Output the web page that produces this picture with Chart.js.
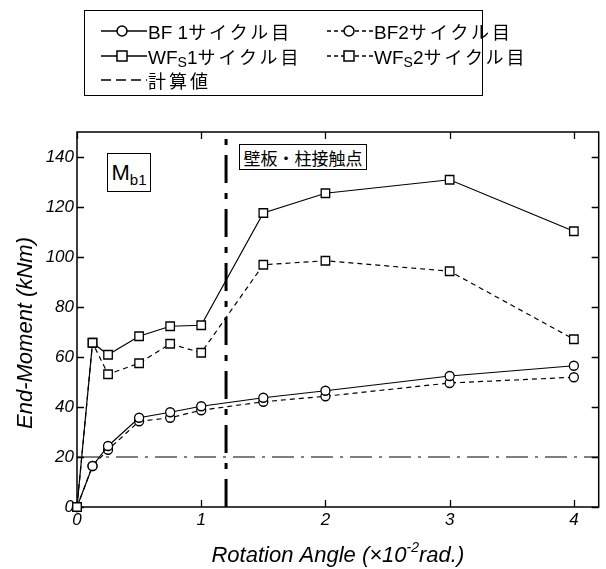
<!DOCTYPE html>
<html>
<head>
<meta charset="utf-8">
<script src="https://cdn.jsdelivr.net/npm/chart.js@4.4.1/dist/chart.umd.min.js"></script>
<style>
    html, body {
        margin: 0;
        padding: 0;
        background: #fff;
    }

    #wrap {
        position: relative;
        width: 606px;
        height: 569px;
        font-family: "Liberation Sans", "Noto Sans CJK JP", sans-serif;
        color: #000;
    }

    #momentCanvas {
        position: absolute;
        left: 0;
        top: 0;
    }

    .legend-box {
        position: absolute;
        left: 84px;
        top: 10px;
        width: 399px;
        height: 86px;
        box-sizing: border-box;
        border: 1.5px solid #000;
        background: #fff;
    }

    .legend-item {
        position: absolute;
        height: 24px;
        display: flex;
        align-items: center;
        font-size: 19px;
        white-space: nowrap;
    }

    .legend-item svg {
        flex: none;
        margin-right: 1px;
    }

    .legend-item .jp {
        font-family: "Noto Sans CJK JP", sans-serif;
        font-size: 18px;
        letter-spacing: 3px;
    }

    .legend-item sub {
        font-size: 14px;
        vertical-align: -3px;
        line-height: 0;
    }

    .note-box {
        position: absolute;
        box-sizing: border-box;
        border: 1.2px solid #000;
        background: #fff;
        display: flex;
        align-items: center;
        justify-content: center;
        white-space: nowrap;
    }

    .contact-note {
        left: 239px;
        top: 144px;
        width: 128px;
        height: 26px;
        font-family: "Noto Sans CJK JP", sans-serif;
        font-size: 17px;
    }

    .member-note {
        left: 107px;
        top: 153px;
        width: 44px;
        height: 39px;
        font-size: 22px;
    }

    .member-note sub {
        font-size: 15px;
        vertical-align: -5px;
        line-height: 0;
    }
</style>
</head>
<body>
<div id="wrap">
    <canvas id="momentCanvas" width="606" height="569"></canvas>

    <div class="legend-box">
        <div class="legend-item" style="left:16px; top:8px;">
            <svg width="46" height="20"><line x1="0" y1="10" x2="46" y2="10" stroke="#000" stroke-width="1.5"/><circle cx="21" cy="10" r="5" fill="#fff" stroke="#000" stroke-width="1.5"/></svg>
            <span>BF 1<span class="jp">サイクル目</span></span>
        </div>
        <div class="legend-item" style="left:242px; top:8px;">
            <svg width="46" height="20"><line x1="0" y1="10" x2="46" y2="10" stroke="#000" stroke-width="1.5" stroke-dasharray="4 3"/><circle cx="22" cy="10" r="5" fill="#fff" stroke="#000" stroke-width="1.5"/></svg>
            <span>BF2<span class="jp">サイクル目</span></span>
        </div>
        <div class="legend-item" style="left:16px; top:33px;">
            <svg width="46" height="20"><line x1="0" y1="10" x2="46" y2="10" stroke="#000" stroke-width="1.5"/><rect x="16" y="5" width="10" height="10" fill="#fff" stroke="#000" stroke-width="1.5"/></svg>
            <span>WF<sub>S</sub>1<span class="jp">サイクル目</span></span>
        </div>
        <div class="legend-item" style="left:242px; top:33px;">
            <svg width="46" height="20"><line x1="0" y1="10" x2="46" y2="10" stroke="#000" stroke-width="1.5" stroke-dasharray="4 3"/><rect x="17" y="5" width="10" height="10" fill="#fff" stroke="#000" stroke-width="1.5"/></svg>
            <span>WF<sub>S</sub>2<span class="jp">サイクル目</span></span>
        </div>
        <div class="legend-item" style="left:16px; top:57px;">
            <svg width="46" height="20"><line x1="0" y1="10" x2="46" y2="10" stroke="#000" stroke-width="1.5" stroke-dasharray="10 5"/></svg>
            <span class="jp">計算値</span>
        </div>
    </div>

    <div class="note-box member-note"><span>M<sub>b1</sub></span></div>
    <div class="note-box contact-note">壁板・柱接触点</div>
</div>

<script>
// rotation angle (x10^-2 rad.)
const angles = [0, 0.125, 0.25, 0.5, 0.75, 1, 1.5, 2, 3, 4];

// end moment (kNm)
const bfCycle1 = [0, 16.4, 24.4, 35.7, 37.9, 40.3, 43.7, 46.5, 52.4, 56.5];
const bfCycle2 = [0, 16.4, 22.9, 34.3, 35.7, 38.7, 42.1, 44.3, 49.6, 51.9];
const wfCycle1 = [0, 65.7, 60.9, 68.3, 72.3, 72.7, 117.6, 125.5, 130.9, 110.3];
const wfCycle2 = [0, 65.7, 53.1, 57.5, 65.3, 61.7, 96.9, 98.5, 94.3, 67.1];

// calculated moment and contact angle
const calcMoment = 20;
const contactAngle = 1.2;

const xMin = 0;
const xMax = 4.2;
const yMin = 0;
const yMax = 150;

const xTickStep = 1;
const yTickStep = 20;

const toPoints = (values) => values.map((v, i) => ({ x: angles[i], y: v }));

const fontFamily = "'Liberation Sans', Arial, sans-serif";
const titleFont = "italic 22px " + fontFamily;
const tickFont = "italic 17px " + fontFamily;

function seriesStyle(values, pointStyle, dashed, radius) {
    return {
        data: toPoints(values),
        borderColor: "#000",
        borderWidth: 1.2,
        borderDash: dashed ? [5, 4] : [],
        pointStyle: pointStyle,
        pointRadius: radius,
        pointHoverRadius: radius,
        pointBackgroundColor: "#fff",
        pointBorderColor: "#000",
        pointBorderWidth: 1.3,
        tension: 0,
        clip: false
    };
}

// frame, inward tick marks, tick labels and the two axis titles
const framePlugin = {
    id: "framePlugin",
    beforeDatasetsDraw(chart) {
        const c = chart.ctx;
        const area = chart.chartArea;
        const xs = chart.scales.x;
        const ys = chart.scales.y;
        const len = 7;

        c.save();
        c.strokeStyle = "#000";
        c.lineWidth = 1.3;

        xs.ticks.forEach((t) => {
            const px = Math.round(xs.getPixelForValue(t.value)) + 0.5;
            c.beginPath();
            c.moveTo(px, area.bottom);
            c.lineTo(px, area.bottom - len);
            c.moveTo(px, area.top);
            c.lineTo(px, area.top + len);
            c.stroke();
        });

        ys.ticks.forEach((t) => {
            const py = Math.round(ys.getPixelForValue(t.value)) + 0.5;
            c.beginPath();
            c.moveTo(area.left, py);
            c.lineTo(area.left + len, py);
            c.moveTo(area.right, py);
            c.lineTo(area.right - len, py);
            c.stroke();
        });

        c.lineWidth = 1.5;
        c.strokeRect(area.left, area.top, area.right - area.left, area.bottom - area.top);

        // tick labels
        c.fillStyle = "#000";
        c.font = tickFont;

        c.textAlign = "center";
        c.textBaseline = "top";
        xs.ticks.forEach((t) => {
            c.fillText(t.label, xs.getPixelForValue(t.value), area.bottom + 5);
        });

        c.textAlign = "right";
        c.textBaseline = "middle";
        ys.ticks.forEach((t) => {
            c.fillText(t.label, area.left - 3, ys.getPixelForValue(t.value));
        });

        c.restore();
    },
    afterDraw(chart) {
        const c = chart.ctx;
        const area = chart.chartArea;

        c.save();
        c.fillStyle = "#000";
        c.font = titleFont;

        // y title
        c.save();
        c.translate(32, 333);
        c.rotate(-Math.PI / 2);
        c.textAlign = "center";
        c.textBaseline = "alphabetic";
        c.fillText("End-Moment (kNm)", 0, 0);
        c.restore();

        // x title with superscript
        const partA = "Rotation Angle (\u00d710";
        const partSup = "-2";
        const partB = "rad.)";
        const supFont = "italic 14px " + fontFamily;

        c.font = titleFont;
        const wA = c.measureText(partA).width;
        const wB = c.measureText(partB).width;
        c.font = supFont;
        const wSup = c.measureText(partSup).width;

        const total = wA + wSup + wB;
        let x = (area.left + area.right) / 2 - total / 2;
        const base = 562;

        c.textAlign = "left";
        c.textBaseline = "alphabetic";
        c.font = titleFont;
        c.fillText(partA, x, base);
        x += wA;
        c.font = supFont;
        c.fillText(partSup, x, base - 10);
        x += wSup;
        c.font = titleFont;
        c.fillText(partB, x, base);

        c.restore();
    }
};

const ctx = document.getElementById("momentCanvas");

const chart = new Chart(ctx, {
    type: "line",
    data: {
        datasets: [
            seriesStyle(wfCycle1, "rect", false, 6),
            seriesStyle(wfCycle2, "rect", true, 6),
            seriesStyle(bfCycle1, "circle", false, 4.5),
            seriesStyle(bfCycle2, "circle", true, 4.5),
            {
                data: [{ x: xMin, y: calcMoment }, { x: xMax, y: calcMoment }],
                borderColor: "#000",
                borderWidth: 1.2,
                borderDash: [22, 7, 3, 7],
                pointRadius: 0
            },
            {
                data: [{ x: contactAngle, y: yMin }, { x: contactAngle, y: 148.5 }],
                borderColor: "#000",
                borderWidth: 3,
                borderDash: [28, 10, 6, 10],
                pointRadius: 0
            }
        ]
    },
    options: {
        responsive: false,
        animation: false,
        events: [],
        layout: {
            padding: { top: 132, right: 2, left: 0, bottom: 0 }
        },
        plugins: {
            legend: { display: false },
            tooltip: { enabled: false }
        },
        scales: {
            x: {
                type: "linear",
                min: xMin,
                max: xMax,
                grid: { display: false },
                border: { display: false },
                ticks: {
                    stepSize: xTickStep,
                    includeBounds: false,
                    display: false
                },
                afterFit(scale) {
                    scale.height = 62;
                }
            },
            y: {
                type: "linear",
                min: yMin,
                max: yMax,
                grid: { display: false },
                border: { display: false },
                ticks: {
                    stepSize: yTickStep,
                    includeBounds: false,
                    display: false
                },
                afterFit(scale) {
                    scale.width = 77;
                }
            }
        }
    },
    plugins: [framePlugin]
});
</script>
</body>
</html>
